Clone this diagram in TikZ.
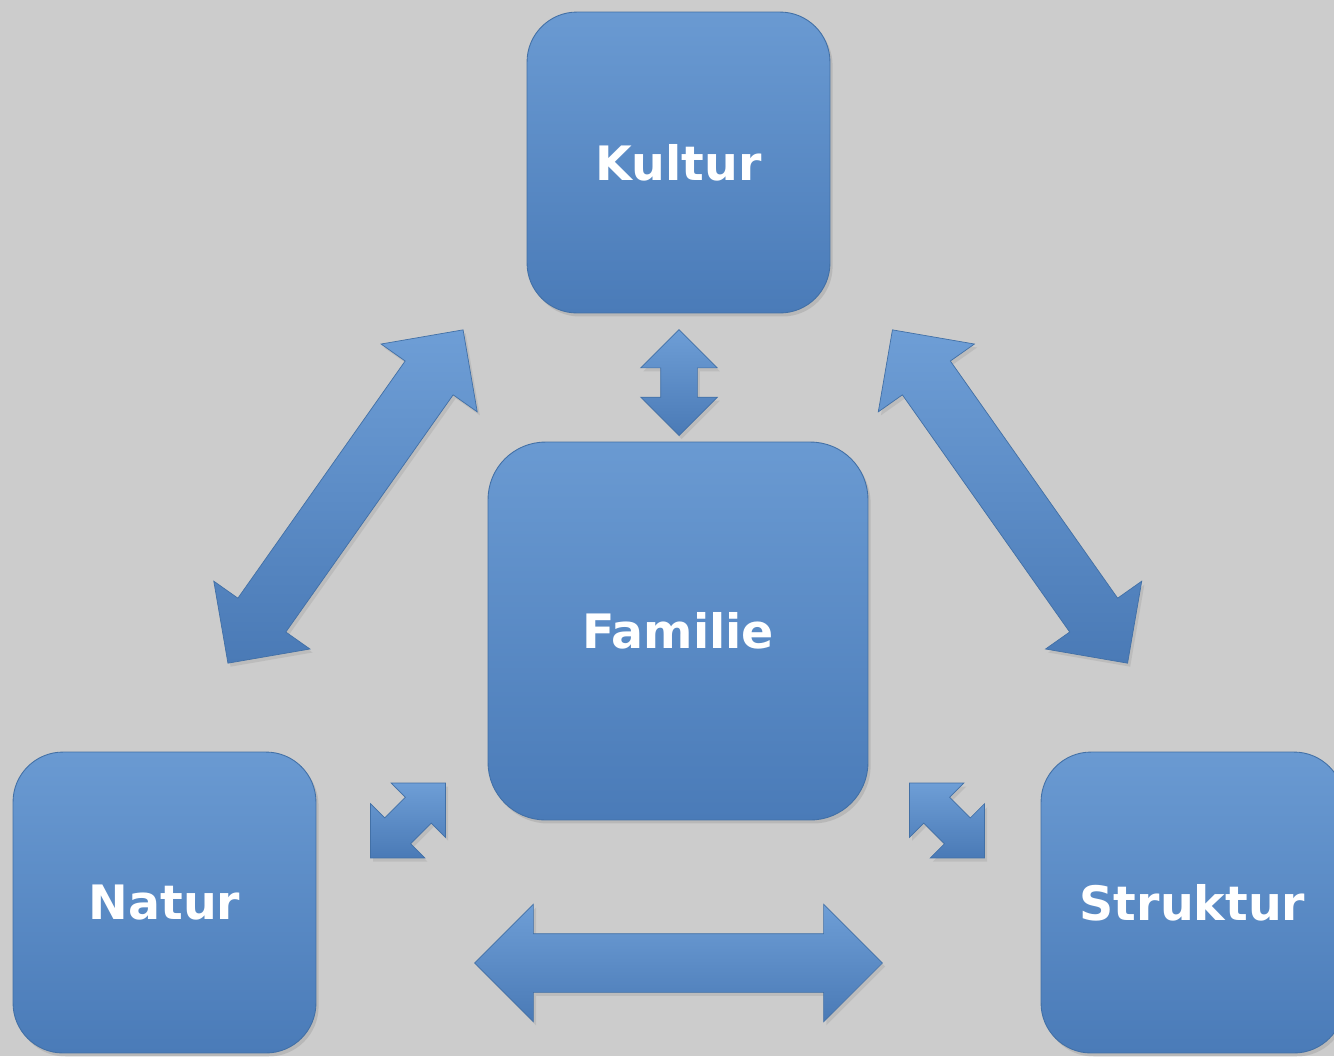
\documentclass[tikz,border=0pt]{standalone}
\usepackage{fontspec}
\setmainfont{DejaVu Sans}
\usepackage{tikz}
\usetikzlibrary{shapes,shadows}

\definecolor{bg}{HTML}{CCCCCC}
\definecolor{boxtop}{HTML}{6A9AD2}
\definecolor{boxbot}{HTML}{4A7BB8}
\definecolor{boxline}{HTML}{4270A6}
\definecolor{arrtop}{HTML}{6E9ED6}
\definecolor{arrbot}{HTML}{4A7AB6}

\begin{document}
\begin{tikzpicture}
[x=0.02cm, y=-0.02cm]
\tikzset{
	box/.style = {rectangle, rounded corners=1cm, draw=boxline, line width=0.5pt,
		top color=boxtop, bottom color=boxbot, text=white,
		font=\fontsize{27}{31}\selectfont\bfseries,
		minimum width=6.06cm, minimum height=6.02cm,
		drop shadow={opacity=0.25, shadow xshift=1.5pt, shadow yshift=-2pt}},
	bigbox/.style = {box, rounded corners=1.15cm, minimum width=7.6cm, minimum height=7.56cm},
	bigarrow/.style = {double arrow, draw=boxline, line width=0.4pt,
		inner xsep=0, inner ysep=0.58cm,
		top color=arrtop, bottom color=arrbot,
		minimum height=8.16cm, double arrow head extend=0.59cm,
		double arrow tip angle=90,
		drop shadow={opacity=0.2, shadow xshift=1.5pt, shadow yshift=-2pt}},
	smallarrow/.style = {bigarrow, minimum height=2.12cm, inner ysep=0.36cm,
		double arrow head extend=0.4cm}
}

\fill[bg] (0,0) rectangle (1334,1056);
\clip (0,0) rectangle (1334,1056);

\node (kultur) [box] at (678.5,162.5) {Kultur};
\node (familie) [bigbox] at (678,631) {Familie};
\node (natur) [box] at (164.5,902.5) {Natur};
\node (struktur) [box] at (1192.5,902.5) {Struktur};

% arrows between the boxes
\node (kf) [smallarrow, rotate=90] at (679,382.5) {};
\node (nf) [smallarrow, rotate=45] at (408,820.5) {};
\node (sf) [smallarrow, rotate=-45] at (947,820.5) {};
\node (kn) [bigarrow, rotate=54.8] at (345.5,496.5) {};
\node (ks) [bigarrow, rotate=-54.8] at (1010,496.5) {};
\node (ns) [bigarrow] at (678.5,963) {};
\end{tikzpicture}
\end{document}
